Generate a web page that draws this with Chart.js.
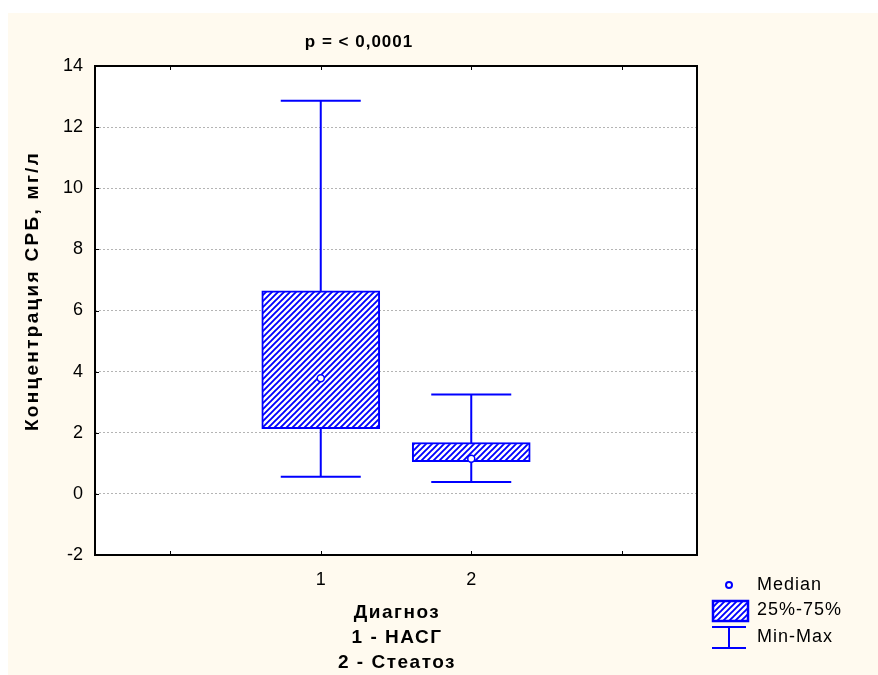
<!DOCTYPE html>
<html>
<head>
<meta charset="utf-8">
<script src="https://cdn.jsdelivr.net/npm/chart.js@4.4.1/dist/chart.umd.min.js"></script>
<style>
  html, body { margin: 0; padding: 0; background: #ffffff; }
  #wrap { width: 878px; height: 675px; }
</style>
</head>
<body>
<div id="wrap"><canvas id="boxChart" width="878" height="675"></canvas></div>
<script>
// groups on the x axis
const groups = [1, 2];
// box statistics per group
const q1Values = [2.13, 1.05];
const q3Values = [6.64, 1.68];
const medianValues = [3.78, 1.15];
const minValues = [0.56, 0.39];
const maxValues = [12.86, 3.25];

const xTickValues = [0, 1, 2, 3];
const xTickLabels = ['', '1', '2', ''];
const yTicks = [-2, 0, 2, 4, 6, 8, 10, 12, 14];

const titleText = 'p = < 0,0001';
const yTitle = 'Концентрация СРБ, мг/л';
const xTitleLines = ['Диагноз', '1 - НАСГ', '2 - Стеатоз'];
const legendLabels = ['Median', '25%-75%', 'Min-Max'];

const BLUE = '#0000ff';
const CREAM = '#fffaef';
const FONT = 'Arial, "Liberation Sans", sans-serif';

// diagonal hatch used for the boxes
function makeHatch() {
    const c = document.createElement('canvas');
    c.width = 6; c.height = 6;
    const g = c.getContext('2d');
    g.fillStyle = '#ffffff';
    g.fillRect(0, 0, 6, 6);
    g.strokeStyle = BLUE;
    g.lineWidth = 1.9;
    g.beginPath();
    g.moveTo(-1, 7); g.lineTo(7, -1);
    g.moveTo(-1, 1); g.lineTo(1, -1);
    g.moveTo(5, 7); g.lineTo(7, 5);
    g.stroke();
    return g.createPattern(c, 'repeat');
}
const hatch = makeHatch();

const backdrop = {
    id: 'backdrop',
    beforeDraw(chart) {
        const ctx = chart.ctx, a = chart.chartArea;
        ctx.save();
        ctx.fillStyle = '#ffffff';
        ctx.fillRect(0, 0, chart.width, chart.height);
        ctx.fillStyle = CREAM;
        ctx.fillRect(8, 13, chart.width - 8, chart.height - 13);
        ctx.fillStyle = '#ffffff';
        ctx.fillRect(a.left, a.top, a.right - a.left, a.bottom - a.top);
        ctx.restore();
    }
};

// whisker lines and caps, drawn under the boxes
const whiskers = {
    id: 'whiskers',
    beforeDatasetsDraw(chart) {
        const ctx = chart.ctx, xs = chart.scales.x, ys = chart.scales.y;
        ctx.save();
        ctx.strokeStyle = BLUE;
        ctx.lineWidth = 2;
        groups.forEach((g, i) => {
            const x = xs.getPixelForValue(g);
            const yMin = ys.getPixelForValue(minValues[i]);
            const yMax = ys.getPixelForValue(maxValues[i]);
            ctx.beginPath();
            ctx.moveTo(x, yMax); ctx.lineTo(x, yMin);
            ctx.moveTo(x - 40, yMax); ctx.lineTo(x + 40, yMax);
            ctx.moveTo(x - 40, yMin); ctx.lineTo(x + 40, yMin);
            ctx.stroke();
        });
        ctx.restore();
    }
};

// frame, inward ticks, titles and legend
const decorations = {
    id: 'decorations',
    afterDraw(chart) {
        const ctx = chart.ctx, a = chart.chartArea, xs = chart.scales.x, ys = chart.scales.y;
        ctx.save();
        ctx.strokeStyle = '#000000';
        ctx.lineWidth = 2;
        ctx.strokeRect(a.left, a.top, a.right - a.left, a.bottom - a.top);
        ctx.lineWidth = 1;
        ctx.beginPath();
        xTickValues.forEach(v => {
            const x = Math.round(xs.getPixelForValue(v)) + 0.5;
            ctx.moveTo(x, a.bottom); ctx.lineTo(x, a.bottom - 4);
            ctx.moveTo(x, a.top); ctx.lineTo(x, a.top + 4);
        });
        yTicks.forEach(v => {
            const y = Math.round(ys.getPixelForValue(v)) + 0.5;
            ctx.moveTo(a.left, y); ctx.lineTo(a.left + 4, y);
        });
        ctx.stroke();

        ctx.fillStyle = '#000000';
        ctx.textAlign = 'center';
        ctx.textBaseline = 'middle';
        ctx.font = 'bold 17px ' + FONT;
        ctx.letterSpacing = '1px';
        ctx.fillText(titleText, 359, 42);

        ctx.font = 'bold 19px ' + FONT;
        ctx.letterSpacing = '1.5px';
        xTitleLines.forEach((t, i) => ctx.fillText(t, 397, 613 + i * 25));

        ctx.save();
        ctx.translate(33, 291);
        ctx.rotate(-Math.PI / 2);
        ctx.letterSpacing = '2.3px';
        ctx.fillText(yTitle, 0, 0);
        ctx.restore();

        // legend
        ctx.strokeStyle = BLUE;
        ctx.lineWidth = 2;
        ctx.fillStyle = '#ffffff';
        ctx.beginPath();
        ctx.arc(729, 585, 3, 0, Math.PI * 2);
        ctx.fill(); ctx.stroke();

        ctx.fillStyle = hatch;
        ctx.fillRect(713, 601, 35, 20);
        ctx.lineWidth = 2.5;
        ctx.strokeRect(713, 601, 35, 20);
        ctx.lineWidth = 2;

        ctx.beginPath();
        ctx.moveTo(712, 627); ctx.lineTo(746, 627);
        ctx.moveTo(729, 627); ctx.lineTo(729, 648);
        ctx.moveTo(712, 648); ctx.lineTo(746, 648);
        ctx.stroke();

        ctx.fillStyle = '#000000';
        ctx.textAlign = 'left';
        ctx.font = '18px ' + FONT;
        ctx.letterSpacing = '1px';
        [585, 610, 637].forEach((y, i) => ctx.fillText(legendLabels[i], 757, y));
        ctx.restore();
    }
};

new Chart(document.getElementById('boxChart'), {
    type: 'bar',
    data: {
        datasets: [
            {
                type: 'scatter',
                label: 'Median',
                data: groups.map((g, i) => ({ x: g, y: medianValues[i] })),
                pointStyle: 'circle',
                pointRadius: 3.5,
                pointBorderWidth: 1.5,
                borderColor: BLUE,
                backgroundColor: '#ffffff',
                order: 0
            },
            {
                type: 'bar',
                label: '25%-75%',
                data: groups.map((g, i) => ({ x: g, y: [q1Values[i], q3Values[i]] })),
                backgroundColor: hatch,
                borderColor: BLUE,
                borderWidth: 2,
                borderSkipped: false,
                barThickness: 118,
                order: 1
            }
        ]
    },
    options: {
        responsive: false,
        animation: false,
        layout: { padding: { top: 66, right: 181, bottom: 0, left: 0 } },
        plugins: {
            legend: { display: false },
            title: { display: false },
            tooltip: { enabled: false }
        },
        scales: {
            x: {
                type: 'linear',
                min: -0.5,
                max: 3.5,
                offset: false,
                afterBuildTicks: s => { s.ticks = xTickValues.map(v => ({ value: v })); },
                afterFit: s => { s.height = 120; },
                grid: { display: false, drawTicks: false },
                border: { display: false },
                ticks: {
                    padding: 14,
                    color: '#000000',
                    font: { family: FONT, size: 18 },
                    callback: v => xTickLabels[xTickValues.indexOf(v)]
                }
            },
            y: {
                min: -2,
                max: 14,
                afterBuildTicks: s => { s.ticks = yTicks.map(v => ({ value: v })); },
                afterFit: s => { s.width = 95; },
                grid: { color: '#b4b4b4', lineWidth: 1, drawTicks: false },
                border: { display: false, dash: [2, 2] },
                ticks: {
                    padding: 12,
                    color: '#000000',
                    font: { family: FONT, size: 18 }
                }
            }
        }
    },
    plugins: [backdrop, whiskers, decorations]
});
</script>
</body>
</html>
